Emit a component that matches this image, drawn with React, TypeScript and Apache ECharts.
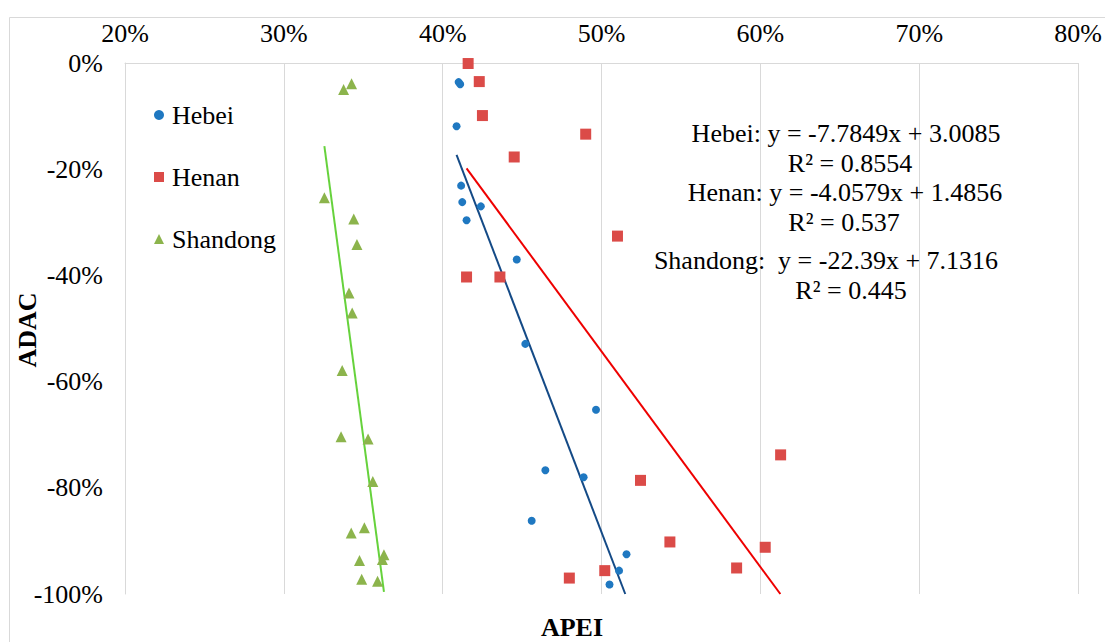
import React, { useEffect, useRef } from "react";
import * as echarts from "echarts";

const FONT = "'Liberation Serif', 'Times New Roman', serif";

const seriesNames = ["Hebei", "Henan", "Shandong"];

// [APEI %, ADAC %]
const hebeiPoints: number[][] = [
  [41.0, -3.6], [41.1, -4.0], [40.87, -11.9], [41.16, -23.1], [41.23, -26.2],
  [42.4, -27.0], [41.5, -29.6], [44.66, -37.0], [45.2, -52.9], [49.65, -65.3],
  [46.46, -76.7], [48.87, -78.0], [45.6, -86.2], [51.57, -92.5], [51.1, -95.6],
  [50.5, -98.2],
];
const henanPoints: number[][] = [
  [41.6, -0.1], [42.3, -3.5], [42.5, -9.9], [49.0, -13.4], [44.5, -17.7],
  [51.0, -32.6], [41.5, -40.3], [43.6, -40.3], [61.27, -73.8], [52.45, -78.6],
  [54.3, -90.2], [60.3, -91.2], [58.5, -95.1], [50.2, -95.6], [47.97, -97.0],
];
const shandongPoints: number[][] = [
  [34.26, -3.9], [33.76, -5.0], [32.55, -25.4], [34.4, -29.4], [34.6, -34.2],
  [34.1, -43.3], [34.3, -47.1], [33.67, -57.9], [33.6, -70.4], [35.3, -70.8],
  [35.6, -78.8], [34.24, -88.5], [35.07, -87.5], [34.76, -93.7], [36.3, -92.6],
  [36.2, -93.5], [34.9, -97.2], [35.9, -97.6],
];

const slopes = [-7.7849, -4.0579, -22.39];
const intercepts = [3.0085, 1.4856, 7.1316];
const rSquared = [0.8554, 0.537, 0.445];

const xTicks = [20, 30, 40, 50, 60, 70, 80];
const yTicks = [-100, -80, -60, -40, -20, 0];

const markerColors = ["#1f78c1", "#db4b48", "#8cb44c"];
const lineColors = ["#144a86", "#ee0000", "#66d23c"];
const symbols = ["circle", "rect", "triangle"];
const symbolSizes = [8, 11, 11];

function trendLine(points: number[][], m: number, c: number): number[][] {
  const xs = points.map((p) => p[0]);
  const minX = Math.min(...xs);
  const maxX = Math.max(...xs);
  const xAtBottom = ((c + 1) / -m) * 100;
  const endX = Math.min(maxX, xAtBottom);
  const f = (x: number) => (m * (x / 100) + c) * 100;
  return [
    [minX, f(minX)],
    [endX, f(endX)],
  ];
}

export default function App() {
  const ref = useRef<HTMLDivElement>(null);

  useEffect(() => {
    if (!ref.current) return;
    const chart = echarts.init(ref.current, undefined, { renderer: "svg" });
    const allPoints = [hebeiPoints, henanPoints, shandongPoints];

    const scatterSeries = allPoints.map((pts, i) => ({
      name: seriesNames[i],
      type: "scatter",
      data: pts,
      symbol: symbols[i],
      symbolSize: symbolSizes[i],
      itemStyle: { color: markerColors[i], opacity: 1 },
      z: 3,
    }));
    const lineSeries = allPoints.map((pts, i) => ({
      name: seriesNames[i] + " trend",
      type: "line",
      data: trendLine(pts, slopes[i], intercepts[i]),
      showSymbol: false,
      symbol: "none",
      lineStyle: { color: lineColors[i], width: 2 },
      z: 2,
    }));

    const eqCenters = [
      [846, 133, 850, 163],
      [845, 192, 844, 222],
      [826, 260, 851, 290],
    ];
    const eqTexts: any[] = [];
    seriesNames.forEach((n, i) => {
      const sep = n === "Shandong" ? ":\u00a0 " : ": ";
      const line1 = `${n}${sep}y = ${slopes[i]}x + ${intercepts[i]}`;
      const line2 = `R² = ${rSquared[i]}`;
      const c = eqCenters[i];
      [
        [line1, c[0], c[1]],
        [line2, c[2], c[3]],
      ].forEach(([t, x, y]) => {
        eqTexts.push({
          type: "text",
          x: x as number,
          y: y as number,
          z: 10,
          style: {
            text: t as string,
            x: 0,
            y: 0,
            fill: "#000",
            font: `26px ${FONT}`,
            textAlign: "center",
            textVerticalAlign: "middle",
            align: "center",
            verticalAlign: "middle",
          },
        });
      });
    });

    chart.setOption({
      animation: false,
      backgroundColor: "#fff",
      grid: { left: 125, right: 25, top: 63, bottom: 48, containLabel: false },
      legend: {
        data: seriesNames,
        orient: "vertical",
        left: 154,
        top: 102,
        padding: 0,
        itemWidth: 10,
        itemHeight: 10,
        itemGap: 36,
        textStyle: {
          fontFamily: FONT,
          fontSize: 26,
          color: "#000",
          lineHeight: 26,
          padding: [0, 0, 0, 3],
        },
      },
      xAxis: {
        type: "value",
        position: "top",
        min: 20,
        max: 80,
        interval: 10,
        axisLine: { show: true, onZero: false, lineStyle: { color: "#d9d9d9", width: 1 } },
        axisTick: { show: false },
        splitLine: { show: true, lineStyle: { color: "#d9d9d9", width: 1 } },
        axisLabel: {
          margin: 17,
          fontFamily: FONT,
          fontSize: 26,
          color: "#000",
          formatter: (v: number) => (xTicks.includes(Math.round(v)) ? `${Math.round(v)}%` : ""),
        },
      },
      yAxis: {
        type: "value",
        min: -100,
        max: 0,
        interval: 20,
        axisLine: { show: true, onZero: false, lineStyle: { color: "#d9d9d9", width: 1 } },
        axisTick: { show: false },
        splitLine: { show: false },
        axisLabel: {
          margin: 22,
          fontFamily: FONT,
          fontSize: 26,
          color: "#000",
          formatter: (v: number) => (yTicks.includes(Math.round(v)) ? `${Math.round(v)}%` : ""),
        },
      },
      graphic: [
        {
          type: "rect",
          shape: { x: 9.5, y: 17.5, width: 1300, height: 800 },
          style: { fill: "none", stroke: "#d9d9d9", lineWidth: 1 },
          silent: true,
          z: -10,
        },
        {
          type: "text",
          x: 27,
          y: 330,
          rotation: Math.PI / 2,
          style: {
            text: "ADAC",
            x: 0,
            y: 0,
            fill: "#000",
            font: `bold 26px ${FONT}`,
            textAlign: "center",
            textVerticalAlign: "middle",
            align: "center",
            verticalAlign: "middle",
          },
        },
        {
          type: "text",
          x: 572,
          y: 627,
          style: {
            text: "APEI",
            x: 0,
            y: 0,
            fill: "#000",
            font: `bold 26px ${FONT}`,
            textAlign: "center",
            textVerticalAlign: "middle",
            align: "center",
            verticalAlign: "middle",
          },
        },
        ...eqTexts,
      ],
      series: [...lineSeries, ...scatterSeries],
    });

    return () => chart.dispose();
  }, []);

  return (
    <div
      ref={ref}
      style={{ position: "absolute", left: 0, top: 0, width: 1105, height: 642 }}
    />
  );
}
